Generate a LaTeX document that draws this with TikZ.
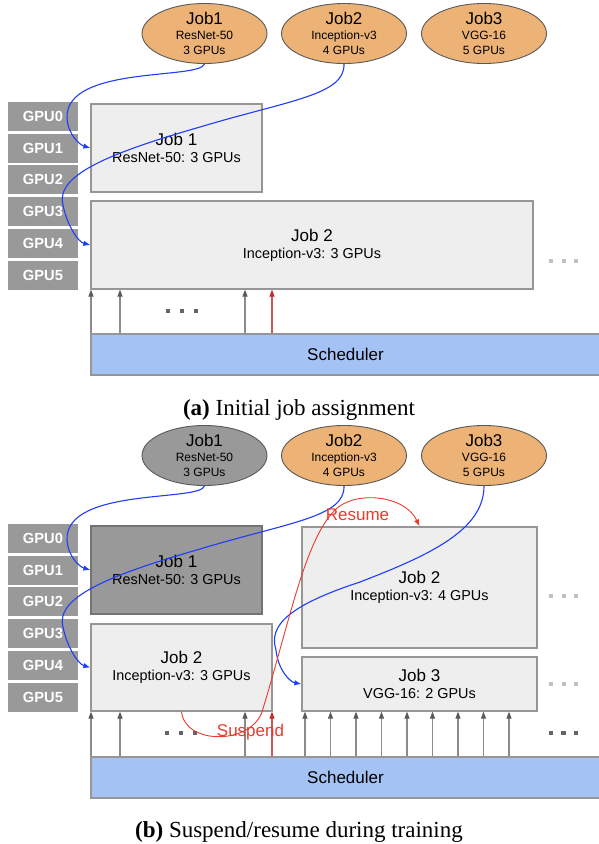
\documentclass[tikz,border=0pt]{standalone}
\usepackage{fontspec}
\setmainfont{Liberation Serif}
\setsansfont{Liberation Sans}
\usetikzlibrary{arrows.meta, shapes.geometric, positioning, calc}
\definecolor{jobOrange}{RGB}{236,178,118}
\definecolor{jobDone}{RGB}{153,153,153}
\definecolor{gpuGray}{RGB}{153,153,153}
\definecolor{boxFill}{RGB}{238,238,238}
\definecolor{boxLine}{RGB}{150,150,150}
\definecolor{doneLine}{RGB}{115,115,115}
\definecolor{schedBlue}{RGB}{164,194,244}
\definecolor{assignBlue}{RGB}{30,60,250}
\definecolor{moveRed}{RGB}{236,58,44}
\definecolor{upRed}{RGB}{195,45,40}
\definecolor{upGray}{RGB}{90,90,90}
\definecolor{dotDark}{RGB}{100,100,100}
\definecolor{dotLight}{RGB}{192,192,192}

\newcommand{\fs}[2]{\fontsize{#1}{#2}\selectfont}

\begin{document}
\begin{tikzpicture}[x=1pt, y=-1pt,
    gpu/.style={fill=gpuGray, text=white, minimum width=70pt, minimum height=29pt,
                inner sep=0pt, font=\sffamily\bfseries\fs{14.7}{16}},
    jobell/.style={ellipse, draw=black!65, fill=#1, line width=0.9pt,
                   minimum width=125pt, minimum height=56pt, inner sep=0pt,
                   align=center, font=\sffamily\fs{12}{15}},
    jobbox/.style={draw=boxLine, fill=boxFill, line width=1.2pt, inner sep=0pt,
                   align=center, font=\sffamily\fs{14.4}{17}},
    donebox/.style={jobbox, draw=doneLine, fill=jobDone},
    sched/.style={draw=boxLine, fill=schedBlue, line width=1.2pt,
                  minimum width=509pt, minimum height=41pt, font=\sffamily\fs{17}{17}},
    assign/.style={assignBlue, line width=1.1pt, -{Latex[length=7pt,width=5.5pt]}},
    movearr/.style={moveRed, line width=0.9pt, -{Latex[length=7pt,width=5.5pt]}},
    uparr/.style={black!45, line width=1.1pt, -{Triangle[length=7pt,width=5pt,color=upGray]}},
    upred/.style={upRed!80, line width=1.1pt, -{Triangle[length=7pt,width=5pt,color=upRed]}},
    redlbl/.style={text=moveRed, font=\sffamily\fs{17}{17}, anchor=base},
    caption/.style={font=\rmfamily\fs{23}{25}, anchor=base}
  ]
  \useasboundingbox (0,0) rectangle (598,844);

  % ---------- (a) initial assignment ----------
  \node[jobell=jobOrange] (eA1) at (204.5,33.5) {{\fs{17}{15}Job1}\\ResNet-50\\3 GPUs};
  \node[jobell=jobOrange] (eA2) at (344,33.5)   {{\fs{17}{15}Job2}\\Inception-v3\\4 GPUs};
  \node[jobell=jobOrange] (eA3) at (484,33.5)   {{\fs{17}{15}Job3}\\VGG-16\\5 GPUs};

  \foreach \i in {0,...,5}
    \node[gpu] (gA\i) at (43,116.5+31.7*\i) {GPU\i};

  \node[jobbox, minimum width=171pt, minimum height=88pt] (jA1) at (176.5,148)
    {{\fs{17}{17}Job 1}\\ResNet-50: 3 GPUs};
  \node[jobbox, minimum width=442pt, minimum height=88pt] (jA2) at (312,245)
    {{\fs{17}{17}Job 2}\\Inception-v3: 3 GPUs};

  \node[sched] (sA) at (345.5,354.5) {Scheduler};

  \foreach \x in {91,120,245}
    \draw[uparr] (sA.north -| \x,0) -- (jA2.south -| \x,0);
  \draw[upred] (sA.north -| 272,0) -- (jA2.south -| 272,0);

  \foreach \x in {168,182,196}
    \fill[dotDark] (\x-2.3,308.5) rectangle ++(4.6,4.6);
  \foreach \x in {551,564,576}
    \fill[dotLight] (\x-2,259) rectangle ++(4,4);

  \node[caption] (capA) at (299,415.5) {\textbf{(a)} Initial job assignment};

  % ---------- (b) suspend / resume ----------
  \node[jobell=jobDone]   (eB1) at (204.5,455.5) {{\fs{17}{15}Job1}\\ResNet-50\\3 GPUs};
  \node[jobell=jobOrange] (eB2) at (344,455.5)   {{\fs{17}{15}Job2}\\Inception-v3\\4 GPUs};
  \node[jobell=jobOrange] (eB3) at (484,455.5)   {{\fs{17}{15}Job3}\\VGG-16\\5 GPUs};

  \foreach \i in {0,...,5}
    \node[gpu] (gB\i) at (43,538.5+31.7*\i) {GPU\i};

  \node[donebox, minimum width=171pt, minimum height=88pt] (jB1) at (176.5,570)
    {{\fs{17}{17}Job 1}\\ResNet-50: 3 GPUs};
  \node[jobbox, minimum width=181pt, minimum height=87pt] (jB2) at (181.5,667.5)
    {{\fs{17}{17}Job 2}\\Inception-v3: 3 GPUs};
  \node[jobbox, minimum width=235pt, minimum height=121pt] (jB2new) at (419.5,587.5)
    {{\fs{17}{17}Job 2}\\Inception-v3: 4 GPUs};
  \node[jobbox, minimum width=235pt, minimum height=54pt] (jB3) at (419.5,684)
    {{\fs{17}{17}Job 3}\\VGG-16: 2 GPUs};

  \node[sched] (sB) at (345.5,777.5) {Scheduler};

  \foreach \x in {91,120,245}
    \draw[uparr] (sB.north -| \x,0) -- (jB2.south -| \x,0);
  \draw[upred] (sB.north -| 272,0) -- (jB2.south -| 272,0);
  \foreach \i in {0,...,8}
    \draw[uparr] (sB.north -| 305+25.5*\i,0) -- (jB3.south -| 305+25.5*\i,0);

  \foreach \x in {167,181,195}
    \fill[dotDark] (\x-2.3,730.7) rectangle ++(4.6,4.6);
  \foreach \x in {551,563.5,576}
    \fill[dotDark] (\x-2.3,730.7) rectangle ++(4.6,4.6);
  \foreach \y in {596,684}
    \foreach \x in {551,564,576}
      \fill[dotLight] (\x-2,\y-2) rectangle ++(4,4);

  \node[caption] (capB) at (299,837) {\textbf{(b)} Suspend/resume during training};

  % ---------- placement curves ----------
  \foreach \p/\dy in {A/0,B/422}{
    \draw[assign] (e\p1.south) .. controls (200,80+\dy) and (65,65+\dy) .. (67,118+\dy)
        .. controls (68,135+\dy) and (80,145+\dy) .. (j\p1.west);
    \draw[assign] (e\p2.south) .. controls (345,95+\dy) and (290,100+\dy) .. (200,127+\dy)
        .. controls (110,153+\dy) and (55,175+\dy) .. (63,205+\dy)
        .. controls (67,225+\dy) and (78,242+\dy) .. (j\p2.west);
  }
  \draw[assign] (eB3.south) .. controls (484,530) and (430,555) .. (360,582)
      .. controls (290,605) and (268,625) .. (276,650)
      .. controls (278,670) and (290,682) .. (jB3.west);

  % suspend job 2 and resume it on 4 GPUs
  \draw[movearr] (jB2.south) .. controls (185,745) and (250,745) .. (262,712)
      .. controls (290,620) and (305,540) .. (335,510)
      .. controls (355,490) and (405,495) .. (jB2new.north);
  \node[redlbl] (lblSusp) at (250.5,736) {Suspend};
  \node[redlbl] (lblRes)  at (357.5,520) {Resume};
\end{tikzpicture}
\end{document}
